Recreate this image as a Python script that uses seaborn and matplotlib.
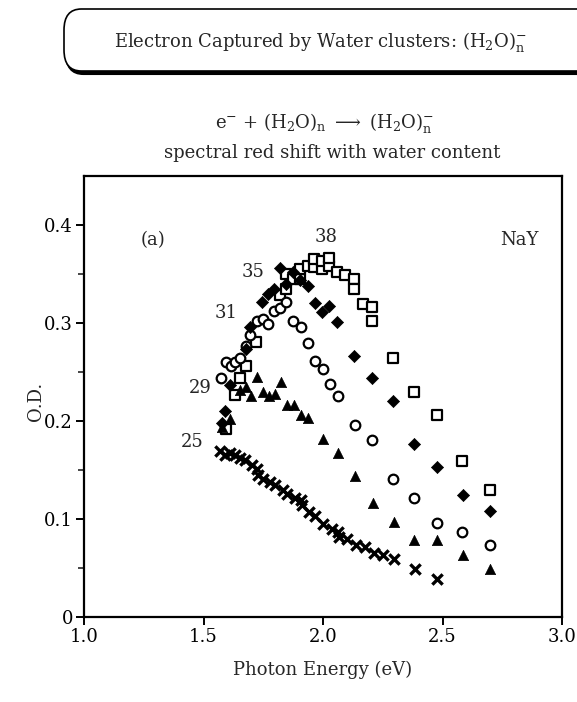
import matplotlib
matplotlib.use('Agg')
import matplotlib.pyplot as plt
import seaborn as sns
import pandas as pd
from matplotlib.patches import FancyBboxPatch

# ---- data (NaY, water content labels) ----
sq_x = [1.593, 1.633, 1.653, 1.678, 1.721, 1.820, 1.845, 1.845, 1.873, 1.904, 1.904, 1.936,
        1.963, 1.963, 1.994, 1.994, 2.025, 2.025, 2.058, 2.094, 2.128, 2.128, 2.169, 2.204,
        2.204, 2.294, 2.381, 2.476, 2.583, 2.697]
sq_y = [0.192, 0.227, 0.244, 0.256, 0.281, 0.329, 0.335, 0.350, 0.345, 0.345, 0.355, 0.358,
        0.357, 0.365, 0.355, 0.363, 0.358, 0.366, 0.352, 0.349, 0.345, 0.335, 0.320, 0.316,
        0.302, 0.264, 0.230, 0.206, 0.159, 0.130]

dia_x = [1.576, 1.592, 1.612, 1.678, 1.695, 1.745, 1.771, 1.796, 1.820, 1.845, 1.876, 1.904,
         1.936, 1.967, 1.997, 2.027, 2.060, 2.131, 2.207, 2.294, 2.382, 2.476, 2.584, 2.697]
dia_y = [0.198, 0.210, 0.237, 0.274, 0.296, 0.322, 0.330, 0.335, 0.356, 0.340, 0.352, 0.344,
         0.338, 0.321, 0.311, 0.317, 0.301, 0.266, 0.244, 0.220, 0.177, 0.153, 0.125, 0.108]

cir_x = [1.572, 1.593, 1.614, 1.632, 1.653, 1.678, 1.695, 1.722, 1.747, 1.771, 1.796, 1.820,
         1.845, 1.876, 1.906, 1.936, 1.967, 1.998, 2.029, 2.061, 2.132, 2.207, 2.294, 2.382,
         2.476, 2.583, 2.697]
cir_y = [0.244, 0.260, 0.256, 0.260, 0.264, 0.277, 0.288, 0.302, 0.304, 0.299, 0.312, 0.315,
         0.322, 0.302, 0.296, 0.280, 0.261, 0.253, 0.238, 0.226, 0.196, 0.181, 0.141, 0.121,
         0.096, 0.087, 0.073]

tri_x = [1.576, 1.612, 1.652, 1.678, 1.698, 1.725, 1.747, 1.775, 1.799, 1.823, 1.849, 1.879,
         1.908, 1.939, 2.001, 2.064, 2.134, 2.211, 2.298, 2.381, 2.476, 2.584, 2.697]
tri_y = [0.194, 0.202, 0.232, 0.235, 0.226, 0.245, 0.230, 0.226, 0.228, 0.240, 0.216, 0.216,
         0.206, 0.203, 0.182, 0.167, 0.144, 0.116, 0.097, 0.079, 0.079, 0.063, 0.049]

x_x = [1.569, 1.590, 1.611, 1.632, 1.653, 1.674, 1.702, 1.725, 1.729, 1.747, 1.778, 1.799,
       1.834, 1.851, 1.883, 1.906, 1.911, 1.943, 1.967, 2.001, 2.036, 2.064, 2.068, 2.099,
       2.138, 2.176, 2.213, 2.252, 2.297, 2.385, 2.476]
x_y = [0.169, 0.165, 0.167, 0.165, 0.162, 0.160, 0.155, 0.151, 0.145, 0.141, 0.138, 0.135,
       0.130, 0.126, 0.121, 0.119, 0.114, 0.107, 0.103, 0.095, 0.090, 0.087, 0.082, 0.080,
       0.073, 0.071, 0.065, 0.063, 0.059, 0.049, 0.039]

curve_labels = ['38', '35', '31', '29', '25']
label_x = [2.015, 1.707, 1.594, 1.485, 1.452]
label_y = [0.388, 0.352, 0.310, 0.234, 0.179]

x_ticks = [1.0, 1.5, 2.0, 2.5, 3.0]
x_ticklabels = ['1.0', '1.5', '2.0', '2.5', '3.0']
y_ticks = [0, 0.1, 0.2, 0.3, 0.4]
y_ticklabels = ['0', '0.1', '0.2', '0.3', '0.4']

sns.set_theme(style='ticks')
plt.rcParams['font.family'] = ['DejaVu Serif']
plt.rcParams['mathtext.fontset'] = 'dejavuserif'

fig = plt.figure(figsize=(5.77, 7.02), dpi=100)
ax = fig.add_axes([0.1456, 0.1211, 0.8284, 0.6279])

sq = pd.DataFrame({'E': sq_x, 'OD': sq_y})
dia = pd.DataFrame({'E': dia_x, 'OD': dia_y})
cir = pd.DataFrame({'E': cir_x, 'OD': cir_y})
tri = pd.DataFrame({'E': tri_x, 'OD': tri_y})
xx = pd.DataFrame({'E': x_x, 'OD': x_y})

sns.scatterplot(data=sq, x='E', y='OD', marker='s', s=55, facecolor='white',
                edgecolor='black', linewidth=1.6, ax=ax, zorder=3)
sns.scatterplot(data=dia, x='E', y='OD', marker='D', s=38, color='black',
                edgecolor='black', linewidth=0.5, ax=ax, zorder=4)
sns.scatterplot(data=cir, x='E', y='OD', marker='o', s=48, facecolor='white',
                edgecolor='black', linewidth=1.6, ax=ax, zorder=3)
sns.scatterplot(data=tri, x='E', y='OD', marker='^', s=55, color='black',
                edgecolor='black', linewidth=0.5, ax=ax, zorder=4)
sns.scatterplot(data=xx, x='E', y='OD', marker='x', s=55, color='black',
                linewidth=2.4, ax=ax, zorder=4)

for lab, lx, ly in zip(curve_labels, label_x, label_y):
    ax.text(lx, ly, lab, fontsize=13, ha='center', va='center')
ax.text(1.289, 0.385, '(a)', fontsize=13, ha='center', va='center')
ax.text(2.82, 0.385, 'NaY', fontsize=13, ha='center', va='center')

ax.set_xlim(1.0, 3.0)
ax.set_ylim(0, 0.45)
ax.set_xticks(x_ticks)
ax.set_xticklabels(x_ticklabels)
ax.set_yticks(y_ticks)
ax.set_yticklabels(y_ticklabels)
ax.set_yticks([0.05, 0.15, 0.25, 0.35], minor=True)
ax.tick_params(axis='both', which='major', direction='out', length=6, width=1.4,
               labelsize=13, colors='black', pad=2)
ax.tick_params(axis='y', which='minor', direction='out', length=4, width=1.2)
for sp in ax.spines.values():
    sp.set_visible(True)
    sp.set_linewidth(1.6)
    sp.set_color('black')

ax.set_xlabel('Photon Energy (eV)', fontsize=13)
ax.set_ylabel('O.D.', fontsize=13)
ax.xaxis.set_label_coords(0.5, -0.1)
ax.yaxis.set_label_coords(-0.082, 0.49)

# title box with a heavier bottom edge
shadow = FancyBboxPatch((66 / 577, (702 - 74) / 702), 600 / 577, 62 / 702,
                        boxstyle='round,pad=0,rounding_size=0.03',
                        transform=fig.transFigure, facecolor='black',
                        edgecolor='black', linewidth=1.5, clip_on=False)
box = FancyBboxPatch((64 / 577, (702 - 71) / 702), 600 / 577, 62 / 702,
                     boxstyle='round,pad=0,rounding_size=0.03',
                     transform=fig.transFigure, facecolor='white',
                     edgecolor='black', linewidth=1.2, clip_on=False)
fig.patches.append(shadow)
fig.patches.append(box)

fig.text(320 / 577, 1 - 42 / 702,
         r'Electron Captured by Water clusters: (H$_2$O)$_\mathrm{n}^{-}$',
         fontsize=13, ha='center', va='center')
fig.text(325 / 577, 1 - 123 / 702,
         r'e$^{-}$ + (H$_2$O)$_\mathrm{n}$ $\longrightarrow$ (H$_2$O)$_\mathrm{n}^{-}$',
         fontsize=13, ha='center', va='center')
fig.text(332 / 577, 1 - 153 / 702, 'spectral red shift with water content',
         fontsize=13, ha='center', va='center')

fig.savefig('out.png', dpi=100, facecolor='white')
